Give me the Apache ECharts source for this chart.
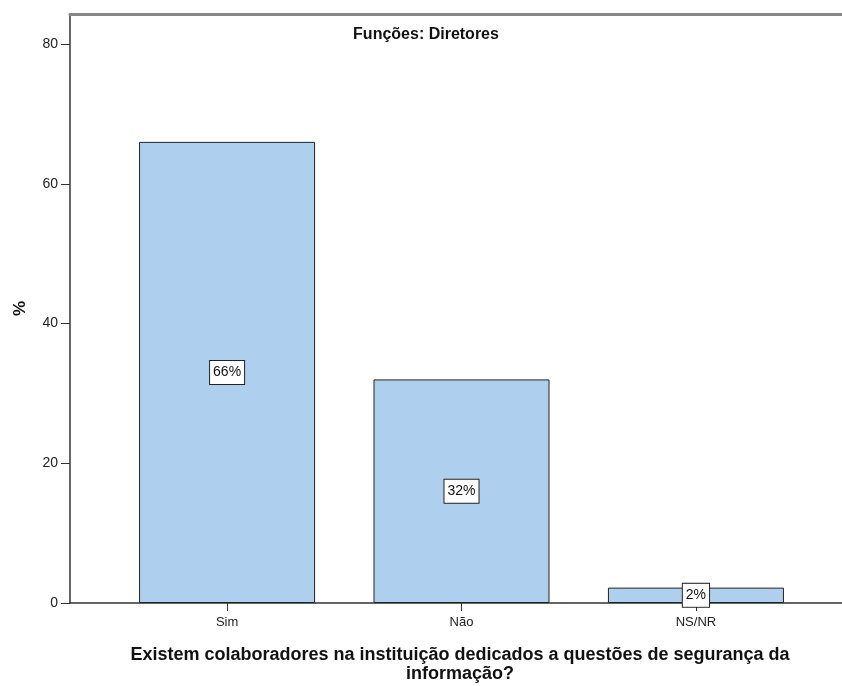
<!DOCTYPE html>
<html><head><meta charset="utf-8">
<script src="https://cdn.jsdelivr.net/npm/echarts@6/dist/echarts.min.js"></script>
<style>html,body{margin:0;padding:0;background:#fff}#c{width:842px;height:686px}</style>
</head><body><div id="c"></div>
<script>
const categories = ['Sim', 'Não', 'NS/NR'];
const values = [66, 32, 2.2];
const labels = ['66%', '32%', '2%'];
const yTicks = [0, 20, 40, 60, 80];
const xTitle = 'Existem colaboradores na instituição dedicados a questões de segurança da\ninformação?';

const chart = echarts.init(document.getElementById('c'));
const F = 'Liberation Sans, Arial, sans-serif';
chart.setOption({
  animation: false,
  title: [{
    text: 'Funções: Diretores', left: 426, top: 27, textAlign: 'center', padding: 0,
    textStyle: { fontFamily: F, fontSize: 16, fontWeight: 'bold', color: '#111' }
  }, {
    text: xTitle, left: 460, top: 646, textAlign: 'center', padding: 0,
    textStyle: { fontFamily: F, fontSize: 18, fontWeight: 'bold', color: '#111', lineHeight: 19, align: 'center' }
  }],
  grid: { left: 70, right: 0, top: 14, bottom: 83, outerBoundsMode: 'none', containLabel: false },
  xAxis: [{
    type: 'value', min: -0.67, max: 2.623, position: 'bottom',
    splitLine: { show: false },
    axisLine: { show: true, onZero: false, lineStyle: { color: '#333', width: 1.5 } },
    axisTick: { show: true, customValues: [0, 1, 2], length: 8, lineStyle: { color: '#333' } },
    axisLabel: { customValues: [0, 1, 2], formatter: v => categories[Math.round(v)] || '',
      fontFamily: F, fontSize: 13, color: '#222', margin: 13 }
  }, {
    type: 'value', min: -0.67, max: 2.623, position: 'top',
    splitLine: { show: false }, axisTick: { show: false }, axisLabel: { show: false },
    axisLine: { show: true, onZero: false, lineStyle: { color: '#888', width: 3 } }
  }],
  yAxis: {
    type: 'value', min: 0, max: 84.3, interval: 20,
    splitLine: { show: false },
    axisLine: { show: true, onZero: false, lineStyle: { color: '#333', width: 1.5 } },
    axisTick: { show: true, length: 9, lineStyle: { color: '#333' } },
    axisLabel: { showMaxLabel: false, fontFamily: F, fontSize: 14, color: '#222', margin: 12,
      formatter: v => yTicks.includes(v) ? String(v) : '' },
    name: '%', nameLocation: 'middle', nameGap: 41, nameRotate: 90,
    nameTextStyle: { fontFamily: F, fontSize: 17, fontWeight: 'bold', color: '#111' }
  },
  series: [{
    type: 'bar', barWidth: 176,
    data: values.map((v, i) => [i, v]),
    itemStyle: { color: '#aed0ee', borderColor: '#222', borderWidth: 1 },
    label: {
      show: true, position: 'inside', formatter: p => labels[p.dataIndex],
      fontFamily: F, fontSize: 14, color: '#111', backgroundColor: '#fff',
      borderColor: '#222', borderWidth: 1, padding: [5, 3, 4, 3]
    }
  }]
});
</script></body></html>
